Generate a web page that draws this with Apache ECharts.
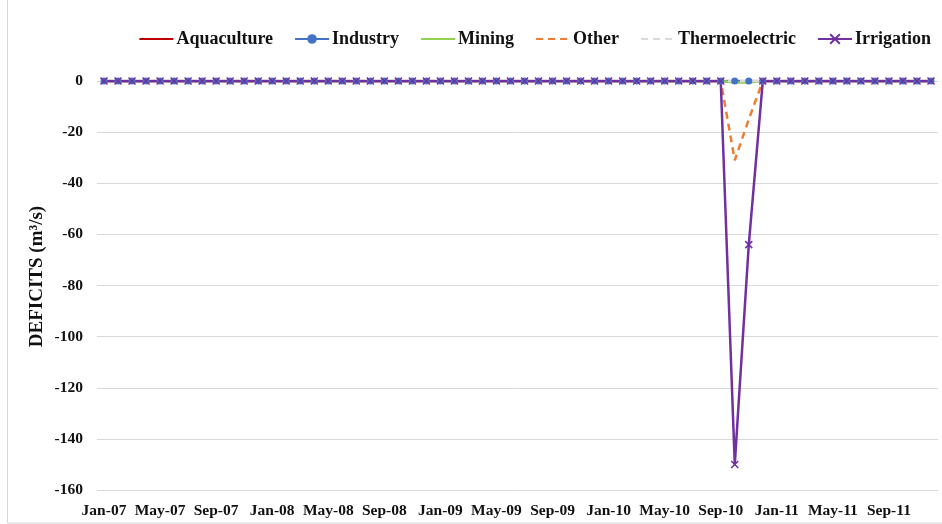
<!DOCTYPE html>
<html>
<head>
<meta charset="utf-8">
<script src="https://cdn.jsdelivr.net/npm/echarts@6/dist/echarts.min.js"></script>
<style>
  html, body { margin: 0; padding: 0; background: #fff; }
  #chart { width: 942px; height: 524px; }
</style>
</head>
<body>
<div id="chart"></div>
<script>
// Monthly water-use deficits by sector, Jan 2007 - Dec 2011
const months = [
  'Jan-07','Feb-07','Mar-07','Apr-07','May-07','Jun-07','Jul-07','Aug-07','Sep-07','Oct-07','Nov-07','Dec-07',
  'Jan-08','Feb-08','Mar-08','Apr-08','May-08','Jun-08','Jul-08','Aug-08','Sep-08','Oct-08','Nov-08','Dec-08',
  'Jan-09','Feb-09','Mar-09','Apr-09','May-09','Jun-09','Jul-09','Aug-09','Sep-09','Oct-09','Nov-09','Dec-09',
  'Jan-10','Feb-10','Mar-10','Apr-10','May-10','Jun-10','Jul-10','Aug-10','Sep-10','Oct-10','Nov-10','Dec-10',
  'Jan-11','Feb-11','Mar-11','Apr-11','May-11','Jun-11','Jul-11','Aug-11','Sep-11','Oct-11','Nov-11','Dec-11'
];

const aquaculture = [
  0,0,0,0,0,0,0,0,0,0,0,0, 0,0,0,0,0,0,0,0,0,0,0,0, 0,0,0,0,0,0,0,0,0,0,0,0,
  0,0,0,0,0,0,0,0,0,0,0,0, 0,0,0,0,0,0,0,0,0,0,0,0
];
const industry = [
  0,0,0,0,0,0,0,0,0,0,0,0, 0,0,0,0,0,0,0,0,0,0,0,0, 0,0,0,0,0,0,0,0,0,0,0,0,
  0,0,0,0,0,0,0,0,0,0,0,0, 0,0,0,0,0,0,0,0,0,0,0,0
];
const mining = [
  0,0,0,0,0,0,0,0,0,0,0,0, 0,0,0,0,0,0,0,0,0,0,0,0, 0,0,0,0,0,0,0,0,0,0,0,0,
  0,0,0,0,0,0,0,0,0,-0.6,-0.6,0, 0,0,0,0,0,0,0,0,0,0,0,0
];
const other = [
  0,0,0,0,0,0,0,0,0,0,0,0, 0,0,0,0,0,0,0,0,0,0,0,0, 0,0,0,0,0,0,0,0,0,0,0,0,
  0,0,0,0,0,0,0,0,0,-31,-15,0, 0,0,0,0,0,0,0,0,0,0,0,0
];
const thermoelectric = [
  0,0,0,0,0,0,0,0,0,0,0,0, 0,0,0,0,0,0,0,0,0,0,0,0, 0,0,0,0,0,0,0,0,0,0,0,0,
  0,0,0,0,0,0,0,0,0,0,0,0, 0,0,0,0,0,0,0,0,0,0,0,0
];
const irrigation = [
  0,0,0,0,0,0,0,0,0,0,0,0, 0,0,0,0,0,0,0,0,0,0,0,0, 0,0,0,0,0,0,0,0,0,0,0,0,
  0,0,0,0,0,0,0,0,0,-150,-64,0, 0,0,0,0,0,0,0,0,0,0,0,0
];

const yTicks = { min: -160, max: 0, step: 20 };

const FONT = '"Liberation Serif", "DejaVu Serif", serif';
const crossMark = 'path://M0,0 L10,10 M10,0 L0,10';
// legend entries for plain lines: hide the marker, keep the line
const noMarker = { color: 'rgba(0,0,0,0)', borderWidth: 0 };

const chart = echarts.init(document.getElementById('chart'), null, { renderer: 'canvas' });

chart.setOption({
  backgroundColor: '#ffffff',
  animation: false,
  textStyle: { fontFamily: FONT },
  graphic: [{
    type: 'rect',
    shape: { x: 7.5, y: -2, width: 940, height: 525 },
    style: { fill: 'none', stroke: '#d9d9d9', lineWidth: 1 },
    silent: true
  }],
  legend: {
    top: 25,
    right: 6,
    itemWidth: 34,
    itemHeight: 12,
    itemGap: 21,
    textStyle: { fontFamily: FONT, fontSize: 18, fontWeight: 'bold', color: '#111', padding: [0, 0, 0, -2] },
    data: [
      { name: 'Aquaculture', itemStyle: noMarker },
      { name: 'Industry' },
      { name: 'Mining', itemStyle: noMarker },
      { name: 'Other', itemStyle: noMarker },
      { name: 'Thermoelectric', itemStyle: noMarker },
      { name: 'Irrigation' }
    ]
  },
  grid: { left: 97, right: 4, top: 81, bottom: 34, containLabel: false },
  xAxis: {
    type: 'category',
    data: months,
    boundaryGap: true,
    axisLine: { show: false },
    axisTick: { show: false },
    splitLine: { show: false },
    axisLabel: {
      interval: 3,
      margin: 13,
      fontFamily: FONT,
      fontSize: 15.5,
      fontWeight: 'bold',
      color: '#111'
    }
  },
  yAxis: {
    type: 'value',
    min: yTicks.min,
    max: yTicks.max,
    interval: yTicks.step,
    name: 'DEFICITS (m³/s)',
    nameLocation: 'middle',
    nameGap: 50,
    nameMoveOverlap: false,
    nameRotate: 90,
    nameTextStyle: { fontFamily: FONT, fontSize: 19, fontWeight: 'bold', color: '#111', padding: [0, 0, 0, 18] },
    axisLine: { show: false },
    axisTick: { show: false },
    axisLabel: {
      margin: 14,
      fontFamily: FONT,
      fontSize: 15.5,
      fontWeight: 'bold',
      color: '#111'
    },
    splitLine: { lineStyle: { color: '#d9d9d9', width: 1 } }
  },
  series: [
    {
      name: 'Aquaculture', type: 'line', data: aquaculture,
      symbol: 'none',
      itemStyle: { color: '#c00000' },
      lineStyle: { color: '#c00000', width: 2.5 }
    },
    {
      name: 'Industry', type: 'line', data: industry,
      symbol: 'circle', symbolSize: 7,
      itemStyle: { color: '#4472c4' },
      lineStyle: { color: '#4472c4', width: 2.5 }
    },
    {
      name: 'Mining', type: 'line', data: mining,
      symbol: 'none',
      itemStyle: { color: '#92d050' },
      lineStyle: { color: '#92d050', width: 2.5 }
    },
    {
      name: 'Other', type: 'line', data: other,
      symbol: 'none',
      itemStyle: { color: '#ed7d31' },
      lineStyle: { color: '#ed7d31', width: 2.5, type: [7, 5] }
    },
    {
      name: 'Thermoelectric', type: 'line', data: thermoelectric,
      symbol: 'none',
      itemStyle: { color: '#d9d9d9' },
      lineStyle: { color: '#d9d9d9', width: 2.5, type: [7, 5] }
    },
    {
      name: 'Irrigation', type: 'line', data: irrigation,
      symbol: crossMark, symbolSize: 7,
      itemStyle: { color: '#7030a0', borderColor: '#7030a0', borderWidth: 1.5 },
      lineStyle: { color: '#7030a0', width: 2.5 }
    }
  ]
});
</script>
</body>
</html>
